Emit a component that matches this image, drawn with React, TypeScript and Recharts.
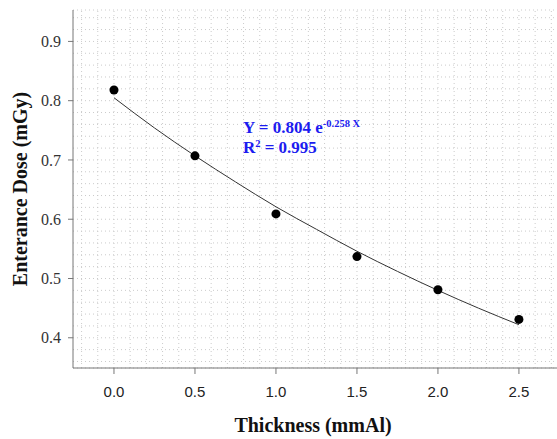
import { ComposedChart, Scatter, Line, XAxis, YAxis, CartesianGrid, ReferenceDot, ReferenceLine } from 'recharts';

const thickness = [0, 0.5, 1.0, 1.5, 2.0, 2.5];
const dose = [0.818, 0.707, 0.609, 0.537, 0.481, 0.431];

// fitted curve
const fitX = [0, 0.25, 0.5, 0.75, 1.0, 1.25, 1.5, 1.75, 2.0, 2.25, 2.5];
const fitY = [0.805, 0.754, 0.707, 0.663, 0.621, 0.583, 0.546, 0.512, 0.480, 0.450, 0.422];

const xTicks = [0, 0.5, 1.0, 1.5, 2.0, 2.5];
const yTicks = [0.4, 0.5, 0.6, 0.7, 0.8, 0.9];

const points = thickness.map((x, i) => ({ x, y: dose[i] }));
const fit = fitX.map((x, i) => ({ x, y: fitY[i] }));

const xGrid: number[] = [];
for (let i = -2; i <= 27; i++) xGrid.push(i / 10);
const yGrid: number[] = [];
for (let i = 18; i <= 47; i++) yGrid.push(i / 50);

const xDomain = [-0.253, 2.735];
const yDomain = [0.349, 0.953];

const serif = '"Liberation Serif", "Times New Roman", serif';
const sans = '"Liberation Sans", Arial, sans-serif';
const gridColor = '#cbcbcb';
const gridDash = '1 3';

const Annotation = (props: any) => {
    const { cx, cy } = props;
    return (
        <g fontFamily={serif} fontWeight="bold" fill="#1c1cf0">
            <text x={cx} y={cy} fontSize={17}>
                Y = 0.804 e<tspan fontSize={10.5} dy={-6}>-0.258 X</tspan>
            </text>
            <text x={cx} y={cy + 20} fontSize={17}>
                R<tspan fontSize={10.5} dy={-6}>2</tspan>
                <tspan dy={6}> = 0.995</tspan>
            </text>
        </g>
    );
};

const XLabel = (props: any) => {
    const { viewBox } = props;
    return (
        <text x={viewBox.x + viewBox.width / 2 - 2} y={viewBox.y + 64} textAnchor="middle"
            fontFamily={serif} fontWeight="bold" fontSize={20} fill="#111">
            Thickness (mmAl)
        </text>
    );
};

const YLabel = (props: any) => {
    const { viewBox } = props;
    const cx = 20;
    const cy = viewBox.y + viewBox.height / 2;
    return (
        <text x={cx} y={cy} textAnchor="middle" dominantBaseline="central" transform={`rotate(-90, ${cx}, ${cy})`}
            fontFamily={serif} fontWeight="bold" fontSize={20} fill="#111">
            Enterance Dose (mGy)
        </text>
    );
};

export default function App() {
    return (
        <div style={{ position: 'fixed', left: 0, top: 0, width: 557, height: 439, background: '#fff' }}>
            <ComposedChart width={557} height={439} margin={{ top: 10, right: 0, bottom: 0, left: 0 }}>
                {/* hidden axis that only carries the horizontal dotted grid */}
                <YAxis yAxisId="grid" type="number" domain={yDomain} ticks={yGrid} interval={0} allowDataOverflow hide />
                <CartesianGrid yAxisId="grid" vertical={false} stroke={gridColor} strokeDasharray={gridDash} />
                {xGrid.map(v => (
                    <ReferenceLine key={v} x={v} stroke={gridColor} strokeDasharray={gridDash} />
                ))}
                <XAxis
                    dataKey="x"
                    type="number"
                    domain={xDomain}
                    ticks={xTicks}
                    interval={0}
                    allowDataOverflow
                    tickFormatter={(v: number) => v.toFixed(1)}
                    height={71}
                    stroke="#777"
                    tickSize={6}
                    tickMargin={12}
                    tick={{ fill: '#222', fontFamily: sans, fontSize: 15 }}
                    label={<XLabel />}
                />
                <XAxis xAxisId="top" orientation="top" type="number" domain={xDomain} allowDataOverflow
                    height={0} tick={false} tickLine={false} stroke="#777" />
                <YAxis
                    dataKey="y"
                    type="number"
                    domain={yDomain}
                    ticks={yTicks}
                    interval={0}
                    allowDataOverflow
                    tickFormatter={(v: number) => v.toFixed(1)}
                    width={73}
                    stroke="#777"
                    tickSize={5}
                    tickMargin={7}
                    tick={{ fill: '#333', fontFamily: serif, fontSize: 16 }}
                    label={<YLabel />}
                />
                <Line data={fit} dataKey="y" type="monotone" stroke="#333" strokeWidth={1} dot={false}
                    activeDot={false} isAnimationActive={false} />
                <Scatter data={points} dataKey="y" fill="#000" isAnimationActive={false}
                    shape={(p: any) => <circle cx={p.cx} cy={p.cy} r={4.5} fill="#000" />} />
                <ReferenceDot x={0.796} y={0.746} r={0} shape={(p: any) => <Annotation {...p} />} />
            </ComposedChart>
        </div>
    );
}
